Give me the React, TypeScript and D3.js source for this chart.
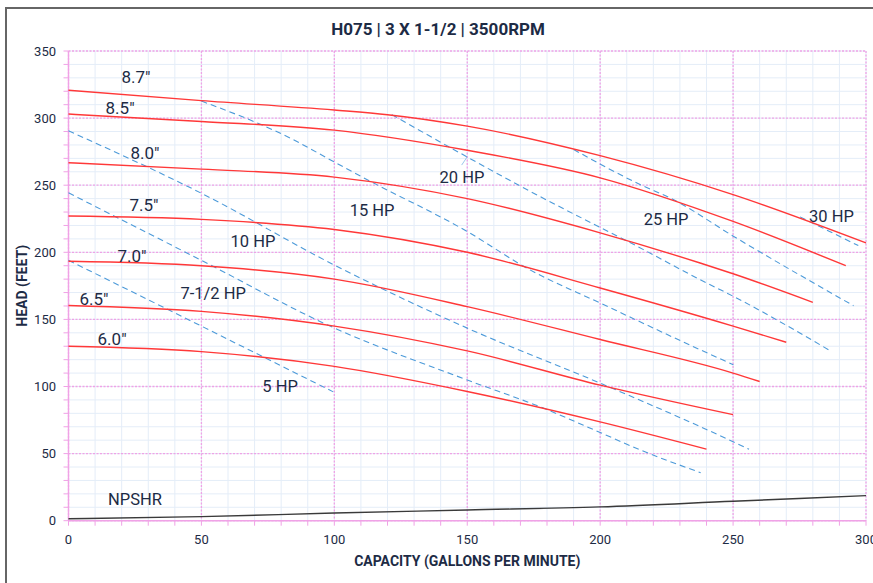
import React from "react";
import * as d3 from "d3";

const W = 873;
const H = 583;

const xTicks = [0, 50, 100, 150, 200, 250, 300];
const yTicks = [0, 50, 100, 150, 200, 250, 300, 350];

const impellerNames = ['8.7"', '8.5"', '8.0"', '7.5"', '7.0"', '6.5"', '6.0"'];
const curve87: [number, number][] = [[0, 320.7], [50, 313], [100, 306], [120, 302.5], [150, 294], [200, 272], [250, 243], [300, 207]];
const curve85: [number, number][] = [[0, 303], [50, 297.5], [100, 291], [150, 276], [200, 255.5], [250, 223], [292.4, 190]];
const curve80: [number, number][] = [[0, 266.7], [50, 262], [100, 256], [150, 240], [200, 214.5], [237.6, 192], [250, 184], [280, 162.7]];
const curve75: [number, number][] = [[0, 227], [50, 224.5], [100, 217], [150, 200], [200, 173.4], [250, 145], [270, 133]];
const curve70: [number, number][] = [[0, 193.3], [50, 190], [100, 180], [150, 159.5], [200, 135], [250, 110], [260, 103.7]];
const curve65: [number, number][] = [[0, 160.4], [50, 156], [100, 145], [150, 126.5], [200, 101], [250, 79]];
const curve60: [number, number][] = [[0, 130], [50, 126], [100, 115], [150, 96.3], [200, 73.6], [240, 53.3]];
const headCurves = [curve87, curve85, curve80, curve75, curve70, curve65, curve60];

const hpNames = ["5 HP", "7-1/2 HP", "10 HP", "15 HP", "20 HP", "25 HP", "30 HP"];
const hp5: [number, number][] = [[0, 194], [50, 145], [99.6, 96]];
const hp75: [number, number][] = [[0, 244.3], [50, 194], [98.4, 145], [149.8, 105], [178.6, 83.9], [200, 65.7], [215, 52.8], [237.8, 35.8]];
const hp10: [number, number][] = [[0, 290.5], [50, 244], [100, 190.5], [150, 143.5], [200, 102.5], [237.6, 70.1], [256, 53.3]];
const hp15: [number, number][] = [[50, 312.7], [84.5, 284], [98.4, 269], [112.2, 254.3], [149.8, 215.7], [173.6, 186.9], [200, 162.2], [237.6, 127.4], [250.1, 116.2]];
const hp20: [number, number][] = [[121.6, 302.6], [149.8, 271.2], [173.6, 245.5], [216.3, 202], [237.6, 179.6], [250.1, 167.2], [285.9, 127.4]];
const hp25: [number, number][] = [[190, 276.6], [215, 250.5], [227.5, 239.3], [250.1, 212], [295.3, 160.2]];
const hp30: [number, number][] = [[275.2, 226.4], [297.1, 205]];
const hpCurves = [hp5, hp75, hp10, hp15, hp20, hp25, hp30];

const npshr: [number, number][] = [[0, 1.5], [50, 3], [100, 5.7], [150, 8], [200, 10.3], [250, 14.5], [300, 18.7]];

// label anchors in data units (gpm, feet)
const impellerLabelAt: [number, number][] = [[25.4, 330.4], [19.4, 307.2], [28.8, 273.7], [28.4, 234.9], [23.9, 197.5], [9.6, 165.4], [16.4, 135.6]];
const hpLabelAt: [number, number][] = [[79.6, 100.5], [54.4, 169.2], [69.4, 208], [114.2, 231.1], [148, 255.7], [224.8, 224.9], [287, 226.6]];
const npshrLabelAt: [number, number] = [25, 16.2];
const leader20: [number, number][] = [[150, 271.2], [147.9, 265]];

const TITLE = "H075 | 3 X 1-1/2 | 3500RPM";
const X_TITLE = "CAPACITY (GALLONS PER MINUTE)";
const Y_TITLE = "HEAD (FEET)";

const TEXT = "#1d2b45";
const PINK = "#f0a2e6";
const MINOR = "#e4edf8";
const RED = "#ff3838";
const BLUE = "#4c9ad9";
const FONT = "Roboto, 'Noto Sans', sans-serif";

export default function App() {
  const x = d3.scaleLinear().domain([0, 300]).range([68.5, 866]);
  const y = d3.scaleLinear().domain([0, 350]).range([520.7, 51]);
  const line = d3
    .line<[number, number]>()
    .x((d) => x(d[0]))
    .y((d) => y(d[1]))
    .curve(d3.curveMonotoneX);
  const straight = d3
    .line<[number, number]>()
    .x((d) => x(d[0]))
    .y((d) => y(d[1]));

  const minorX = d3.range(0, 301, 10);
  const minorY = d3.range(0, 351, 10);
  const [x0, x1] = x.range();
  const [y0, y1] = y.range();

  return (
    <div style={{ position: "absolute", left: 0, top: 0 }}>
      <svg width={W} height={H} style={{ display: "block", background: "#fff" }}>
        {/* frame */}
        <line x1={6} y1={8} x2={W} y2={8} stroke="#666" strokeWidth={2} />
        <line x1={6} y1={7} x2={6} y2={H} stroke="#666" strokeWidth={2} />

        {/* minor grid */}
        {minorX.map((v) => (
          <line key={"mx" + v} x1={x(v)} x2={x(v)} y1={y1} y2={y0} stroke={MINOR} strokeWidth={1} />
        ))}
        {minorY.map((v) => (
          <line key={"my" + v} x1={x0} x2={x1} y1={y(v)} y2={y(v)} stroke={MINOR} strokeWidth={1} />
        ))}
        {/* major grid */}
        {xTicks.map((v) => (
          <line key={"Mx" + v} x1={x(v)} x2={x(v)} y1={y1} y2={y0} stroke={PINK} strokeWidth={1.3} strokeDasharray="2,1.5" />
        ))}
        {yTicks.map((v) => (
          <line key={"My" + v} x1={x0} x2={x1} y1={y(v)} y2={y(v)} stroke={PINK} strokeWidth={1.3} strokeDasharray="2,1.5" />
        ))}
        {/* axes */}
        <line x1={x0} x2={x0} y1={y1} y2={y0} stroke={PINK} strokeWidth={1.4} />
        <line x1={x0} x2={x1} y1={y0} y2={y0} stroke={PINK} strokeWidth={1.4} />
        {minorY.map((v) => (
          <line key={"ty" + v} x1={x0 - 5} x2={x0} y1={y(v)} y2={y(v)} stroke={PINK} strokeWidth={1} />
        ))}
        {minorX.map((v) => (
          <line key={"tx" + v} x1={x(v)} x2={x(v)} y1={y0} y2={y0 + 5} stroke={PINK} strokeWidth={1} />
        ))}

        {/* tick labels */}
        {yTicks.map((v) => (
          <text key={"yl" + v} x={56} y={y(v)} dy="0.35em" textAnchor="end" fontFamily={FONT} fontSize={13} fill={TEXT}>
            {v}
          </text>
        ))}
        {xTicks.map((v) => (
          <text key={"xl" + v} x={x(v)} y={544} textAnchor="middle" fontFamily={FONT} fontSize={13} fill={TEXT}>
            {v}
          </text>
        ))}

        {/* NPSHR */}
        <path d={line(npshr) || ""} fill="none" stroke="#3a3a3a" strokeWidth={1.4} />

        {/* HP lines */}
        {hpCurves.map((c, i) => (
          <path key={"hp" + i} d={line(c) || ""} fill="none" stroke={BLUE} strokeWidth={1.1} strokeDasharray="6,4" />
        ))}
        <path d={straight(leader20) || ""} fill="none" stroke={BLUE} strokeWidth={0.8} opacity={0.7} />

        {/* head curves */}
        {headCurves.map((c, i) => (
          <path key={"hc" + i} d={line(c) || ""} fill="none" stroke={RED} strokeWidth={1.4} />
        ))}

        {/* labels */}
        {impellerNames.map((n, i) => (
          <text key={"il" + i} x={x(impellerLabelAt[i][0])} y={y(impellerLabelAt[i][1])} dy="0.35em" textAnchor="middle" fontFamily={FONT} fontSize={17} fill={TEXT}>
            {n}
          </text>
        ))}
        {hpNames.map((n, i) => (
          <text key={"hl" + i} x={x(hpLabelAt[i][0])} y={y(hpLabelAt[i][1])} dy="0.35em" textAnchor="middle" fontFamily={FONT} fontSize={16.5} fill={TEXT}>
            {n}
          </text>
        ))}
        <text x={x(npshrLabelAt[0])} y={y(npshrLabelAt[1])} dy="0.35em" textAnchor="middle" fontFamily={FONT} fontSize={16.5} fill={TEXT}>
          NPSHR
        </text>

        {/* titles */}
        <text x={438} y={29} dy="0.35em" textAnchor="middle" fontFamily={FONT} fontWeight="bold" fontSize={17} fill={TEXT}>
          {TITLE}
        </text>
        <text x={(x0 + x1) / 2} y={561} dy="0.35em" textAnchor="middle" fontFamily={FONT} fontWeight="bold" fontSize={14} fill={TEXT}>
          {X_TITLE}
        </text>
        <text transform={`translate(22,${(y0 + y1) / 2}) rotate(-90)`} dy="0.35em" textAnchor="middle" fontFamily={FONT} fontWeight="bold" fontSize={14} fill={TEXT}>
          {Y_TITLE}
        </text>
      </svg>
    </div>
  );
}
